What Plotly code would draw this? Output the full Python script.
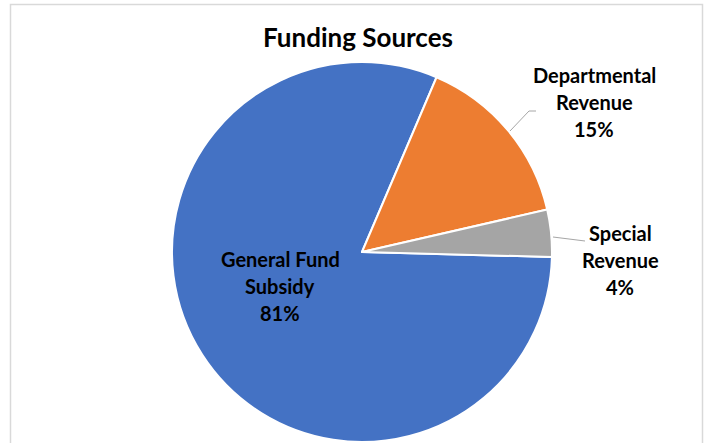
import plotly.graph_objects as go

# Funding breakdown (percent of total)
categories = ["General Fund Subsidy", "Departmental Revenue", "Special Revenue"]
label_lines = [["General Fund", "Subsidy"], ["Departmental", "Revenue"], ["Special", "Revenue"]]
shares = [81, 15, 4]
colors = ["#4472C4", "#ED7D31", "#A5A5A5"]

W, H = 707, 443
FONT = "Lato"


def px(x):
    return x / W


def py(y):
    return 1 - y / H


# pie placement (pixels): centre and radius
cx, cy, r = 362, 252, 190

fig = go.Figure(
    go.Pie(
        labels=categories,
        values=shares,
        sort=False,
        direction="clockwise",
        rotation=91.5,
        marker=dict(colors=colors, line=dict(color="white", width=2)),
        textinfo="none",
        hoverinfo="label+percent",
        showlegend=False,
        domain=dict(x=[px(cx - r), px(cx + r)], y=[py(cy + r), py(cy - r)]),
    )
)

# data labels: first line centre (pixels) for each slice
label_anchor = [(280, 259), (594, 75), (620, 233)]
line_gap = 27
annotations = []
for lines, val, (lx, ly) in zip(label_lines, shares, label_anchor):
    for i, t in enumerate(lines + [f"{val}%"]):
        annotations.append(
            dict(
                text=f"<b>{t}</b>",
                x=px(lx),
                y=py(ly + i * line_gap),
                xref="paper",
                yref="paper",
                xanchor="center",
                yanchor="middle",
                showarrow=False,
                font=dict(family=FONT, size=20, color="#000000"),
            )
        )

leader = dict(color="#A6A6A6", width=1)
shapes = [
    # chart area border
    dict(type="rect", xref="paper", yref="paper",
         x0=px(10.5), x1=px(702.5), y0=py(460), y1=py(4.5),
         line=dict(color="#D9D9D9", width=1.5), layer="below"),
    # leader lines for the outside labels
    dict(type="path", xref="paper", yref="paper",
         path=f"M {px(510)} {py(131)} L {px(529)} {py(111)} L {px(536)} {py(111)}",
         line=leader),
    dict(type="line", xref="paper", yref="paper",
         x0=px(553), y0=py(237), x1=px(585), y1=py(241), line=leader),
]

fig.update_layout(
    width=W,
    height=H,
    margin=dict(l=0, r=0, t=0, b=0),
    paper_bgcolor="white",
    plot_bgcolor="white",
    title=dict(
        text="<b>Funding Sources</b>",
        x=px(358), y=py(38), xanchor="center", yanchor="middle",
        font=dict(family=FONT, size=26, color="#000000"),
    ),
    annotations=annotations,
    shapes=shapes,
)

fig.write_html("out.html")
